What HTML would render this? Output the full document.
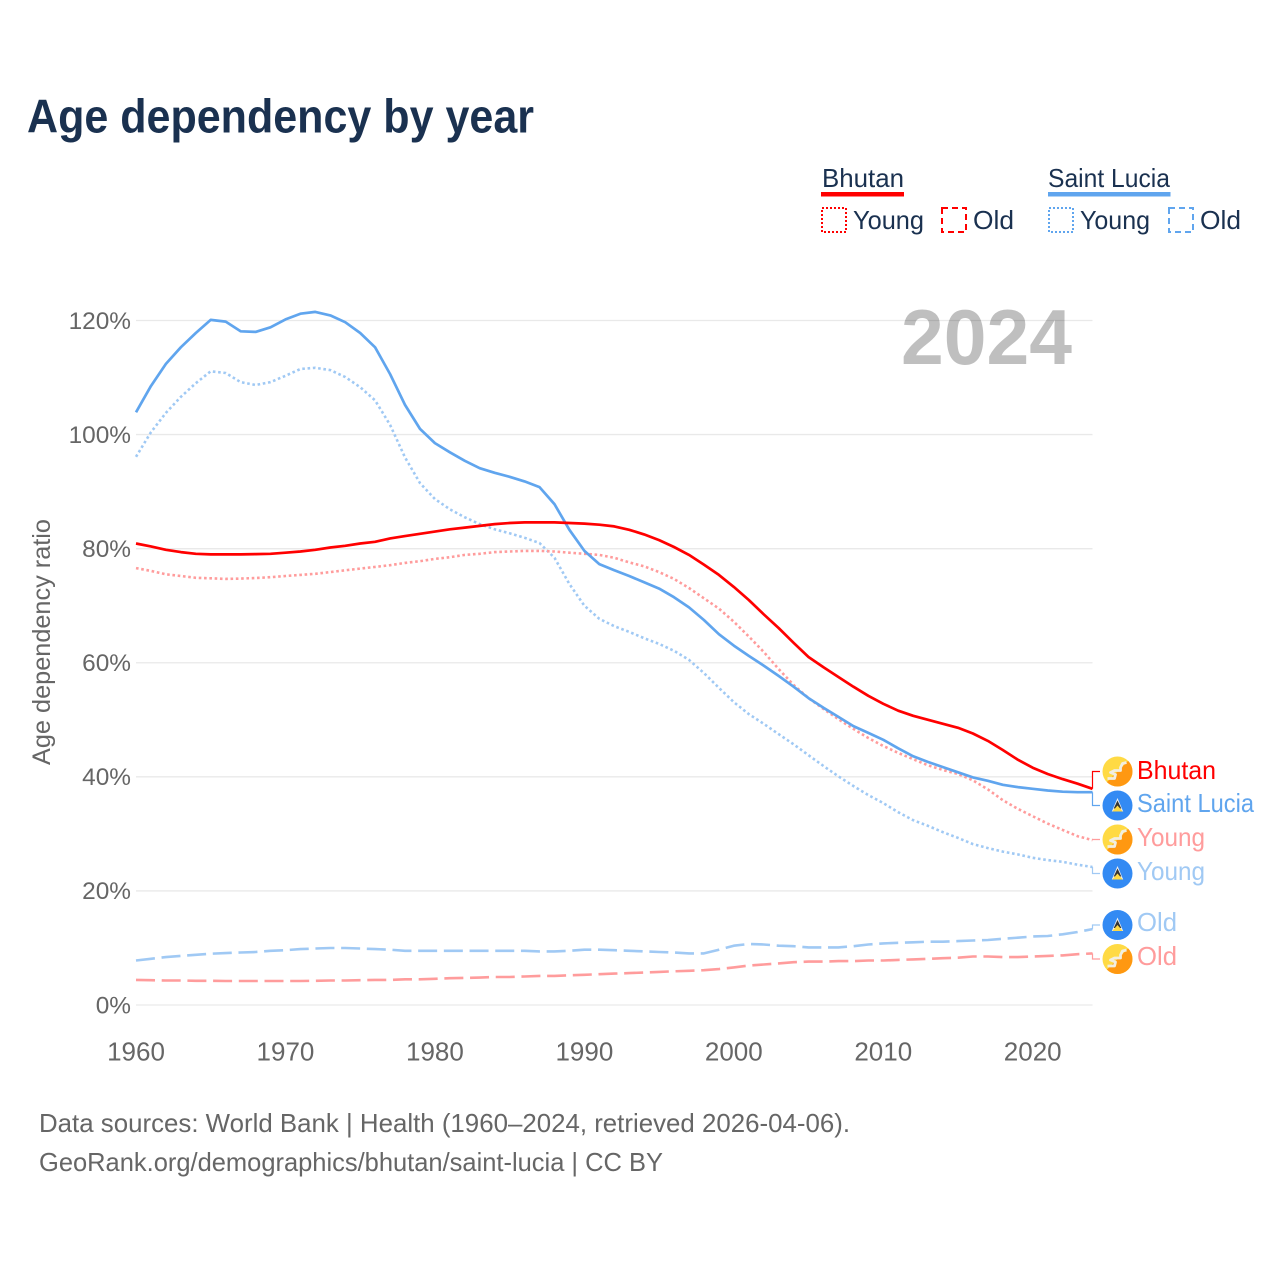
<!DOCTYPE html>
<html lang="en">
<head>
<meta charset="utf-8">
<title>Age dependency by year</title>
<style>
html,body{margin:0;padding:0;background:#fff;}
svg{display:block;font-family:"Liberation Sans",sans-serif;}
</style>
</head>
<body>
<svg id="chart" xmlns="http://www.w3.org/2000/svg" width="1280" height="1280" viewBox="0 0 1280 1280">
<defs>
  <clipPath id="flag-clip"><circle cx="0" cy="0" r="15"/></clipPath>
  <g id="flag-bt" clip-path="url(#flag-clip)">
    <rect x="-15" y="-15" width="30" height="30" fill="#ffda44"/>
    <path d="M15,-15 L15,15 L-15,15 Z" fill="#ff9811"/>
    <path d="M-10,7 L-3,7 L-2,3 L-7,1 L-3,-1 L3,-1 L3,-4 L5,-8 L9,-9" fill="none" stroke="#f2eee0" stroke-width="2.8" stroke-linejoin="round"/>
  </g>
  <g id="flag-lc" clip-path="url(#flag-clip)">
    <rect x="-15" y="-15" width="30" height="30" fill="#338af3"/>
    <path d="M0,-7.5 L5.7,6 L-5.7,6 Z" fill="#f0f0f0"/>
    <path d="M0,-5 L3.8,3 L-3.8,3 Z" fill="#333"/>
    <path d="M-5.2,6 L0,0 L5.2,6 Z" fill="#ffda44"/>
  </g>
</defs>

<text x="27" y="132.5" font-size="47" font-weight="700" fill="#1a3150" textLength="507" lengthAdjust="spacingAndGlyphs">Age dependency by year</text>

<g>
  <g>
    <text x="822" y="187" font-size="26" fill="#1a3150" textLength="82" lengthAdjust="spacingAndGlyphs">Bhutan</text>
    <rect x="821" y="192" width="83" height="4.5" fill="#ff0000"/>
    <rect x="822" y="208" width="24" height="24" fill="none" stroke="#ff0000" stroke-width="2" stroke-dasharray="2 2"/>
    <text x="853" y="229" font-size="26" fill="#1a3150" textLength="71" lengthAdjust="spacingAndGlyphs">Young</text>
    <rect x="942" y="208" width="24" height="24" fill="none" stroke="#ff0000" stroke-width="2" stroke-dasharray="6 4"/>
    <text x="973" y="229" font-size="26" fill="#1a3150" textLength="41" lengthAdjust="spacingAndGlyphs">Old</text>
  </g>
  <g>
    <text x="1048" y="187" font-size="26" fill="#1a3150" textLength="122" lengthAdjust="spacingAndGlyphs">Saint Lucia</text>
    <rect x="1048" y="192" width="122.5" height="4.5" fill="#60a5ee"/>
    <rect x="1049" y="208" width="24" height="24" fill="none" stroke="#60a5ee" stroke-width="2" stroke-dasharray="2 2"/>
    <text x="1080" y="229" font-size="26" fill="#1a3150" textLength="70" lengthAdjust="spacingAndGlyphs">Young</text>
    <rect x="1169" y="208" width="24" height="24" fill="none" stroke="#60a5ee" stroke-width="2" stroke-dasharray="6 4"/>
    <text x="1200" y="229" font-size="26" fill="#1a3150" textLength="41" lengthAdjust="spacingAndGlyphs">Old</text>
  </g>
</g>

<g id="grid"></g>
<g id="yticks"></g>
<g id="xticks"></g>

<text transform="translate(50,765) rotate(-90)" x="0" y="0" font-size="25" fill="#666666" textLength="246" lengthAdjust="spacingAndGlyphs">Age dependency ratio</text>

<text x="901" y="364" font-size="78" font-weight="700" fill="#000000" fill-opacity="0.25" textLength="171" lengthAdjust="spacingAndGlyphs">2024</text>

<g id="series"></g>
<g id="leaders"></g>

<g>
  <use href="#flag-bt" x="1117.5" y="771.5"/>
  <text x="1137" y="779" font-size="26" fill="#ff0000" textLength="79" lengthAdjust="spacingAndGlyphs">Bhutan</text>
  <use href="#flag-lc" x="1117.5" y="805.5"/>
  <text x="1137" y="812" font-size="26" fill="#60a5ee" textLength="117" lengthAdjust="spacingAndGlyphs">Saint Lucia</text>
  <use href="#flag-bt" x="1117.5" y="839.5"/>
  <text x="1137" y="846" font-size="26" fill="#ff9c9c" textLength="68" lengthAdjust="spacingAndGlyphs">Young</text>
  <use href="#flag-lc" x="1117.5" y="873.5"/>
  <text x="1137" y="880" font-size="26" fill="#a0c9f4" textLength="68" lengthAdjust="spacingAndGlyphs">Young</text>
  <use href="#flag-lc" x="1117.5" y="925"/>
  <text x="1137" y="931" font-size="26" fill="#a0c9f4" textLength="40" lengthAdjust="spacingAndGlyphs">Old</text>
  <use href="#flag-bt" x="1117.5" y="959"/>
  <text x="1137" y="965" font-size="26" fill="#ff9c9c" textLength="40" lengthAdjust="spacingAndGlyphs">Old</text>
</g>

<text x="39" y="1132" font-size="26" fill="#666666" textLength="811" lengthAdjust="spacingAndGlyphs">Data sources: World Bank | Health (1960–2024, retrieved 2026-04-06).</text>
<text x="39" y="1171" font-size="26" fill="#666666" textLength="624" lengthAdjust="spacingAndGlyphs">GeoRank.org/demographics/bhutan/saint-lucia | CC BY</text>
</svg>

<script>
const startYear = 1960;
const endYear = 2024;
const yTickValues = [0, 20, 40, 60, 80, 100, 120];
const xTickValues = [1960, 1970, 1980, 1990, 2000, 2010, 2020];

const bhutanTotal = [
  80.9,80.4,79.8,79.4,79.1,79.0,79.0,79.0,79.05,79.1,
  79.3,79.5,79.8,80.2,80.5,80.9,81.2,81.8,82.2,82.6,
  83.0,83.4,83.7,84.0,84.3,84.5,84.6,84.6,84.6,84.5,
  84.4,84.2,83.9,83.3,82.5,81.5,80.3,78.9,77.2,75.4,
  73.3,71.0,68.5,66.1,63.5,61.0,59.2,57.5,55.8,54.2,
  52.8,51.6,50.7,50.0,49.3,48.6,47.6,46.3,44.7,43.0,
  41.6,40.5,39.6,38.8,37.9
];
const bhutanYoung = [
  76.6,76.1,75.5,75.2,74.9,74.8,74.7,74.75,74.85,75.0,
  75.2,75.4,75.6,75.9,76.2,76.5,76.8,77.1,77.5,77.8,
  78.2,78.5,78.9,79.1,79.4,79.5,79.6,79.6,79.5,79.3,
  79.1,78.9,78.4,77.6,76.9,75.9,74.7,73.1,71.3,69.5,
  67.2,64.6,61.9,58.9,56.1,53.8,51.9,50.1,48.4,46.8,
  45.4,44.2,43.1,42.0,41.2,40.5,39.4,37.8,35.9,34.4,
  33.1,31.8,30.7,29.6,28.9
];
const bhutanOld = [
  4.4,4.35,4.3,4.3,4.25,4.25,4.2,4.2,4.2,4.2,
  4.2,4.2,4.25,4.3,4.3,4.35,4.4,4.4,4.5,4.5,
  4.6,4.7,4.75,4.8,4.9,4.9,5.0,5.1,5.1,5.2,
  5.3,5.4,5.5,5.6,5.7,5.8,5.9,6.0,6.1,6.3,
  6.6,6.9,7.1,7.3,7.5,7.6,7.6,7.7,7.7,7.8,
  7.8,7.9,8.0,8.1,8.2,8.3,8.5,8.5,8.4,8.4,
  8.5,8.6,8.7,8.9,9.05
];
const saintLuciaTotal = [
  103.9,108.5,112.4,115.3,117.8,120.1,119.8,118.1,118.0,118.8,
  120.2,121.2,121.5,120.9,119.7,117.8,115.3,110.6,105.2,101.0,
  98.5,96.9,95.4,94.1,93.3,92.6,91.8,90.8,87.8,83.3,
  79.6,77.3,76.2,75.2,74.1,73.0,71.5,69.7,67.5,65.0,
  63.0,61.2,59.5,57.7,55.8,53.8,52.1,50.5,48.9,47.7,
  46.5,45.0,43.6,42.6,41.7,40.8,39.9,39.3,38.6,38.2,
  37.9,37.6,37.4,37.3,37.3
];
const saintLuciaYoung = [
  96.1,100.4,103.8,106.6,109.0,111.1,110.8,109.2,108.7,109.2,
  110.3,111.5,111.7,111.3,110.1,108.3,106.0,101.7,96.0,91.5,
  88.7,86.9,85.5,84.3,83.4,82.7,81.9,81.0,78.4,73.8,
  70.0,67.7,66.4,65.4,64.3,63.3,62.1,60.5,58.2,55.6,
  53.1,51.0,49.3,47.5,45.7,43.8,41.9,40.1,38.4,36.8,
  35.4,33.8,32.4,31.4,30.3,29.3,28.2,27.5,26.9,26.4,
  25.8,25.4,25.1,24.6,24.2
];
const saintLuciaOld = [
  7.8,8.1,8.4,8.6,8.8,9.0,9.1,9.2,9.3,9.5,
  9.6,9.8,9.9,10.0,10.0,9.9,9.8,9.7,9.5,9.5,
  9.5,9.5,9.5,9.5,9.5,9.5,9.5,9.4,9.4,9.5,
  9.7,9.7,9.6,9.5,9.4,9.3,9.2,9.05,9.05,9.7,
  10.4,10.7,10.6,10.4,10.3,10.1,10.1,10.1,10.3,10.6,
  10.8,10.9,11.0,11.1,11.1,11.2,11.3,11.4,11.6,11.8,
  12.0,12.1,12.4,12.8,13.3
];

const NS = 'http://www.w3.org/2000/svg';
const plot = { left: 136, right: 1092.5, zeroY: 1005, top120Y: 320.5 };
function xScale(year) {
  return plot.left + (year - startYear) * (plot.right - plot.left) / (endYear - startYear);
}
function yScale(value) {
  return plot.zeroY - value * (plot.zeroY - plot.top120Y) / 120;
}
function make(tag, attrs) {
  const el = document.createElementNS(NS, tag);
  for (const k in attrs) el.setAttribute(k, attrs[k]);
  return el;
}

const gridGroup = document.getElementById('grid');
const yTickGroup = document.getElementById('yticks');
const xTickGroup = document.getElementById('xticks');

yTickValues.forEach(function (v) {
  const line = make('line', { x1: plot.left, x2: plot.right, y1: yScale(v), y2: yScale(v), stroke: '#e9e9e9', 'stroke-width': 1.3 });
  
  
  gridGroup.appendChild(line);
  const label = make('text', { x: 131, y: yScale(v) + 8.3, 'text-anchor': 'end', 'font-size': 24.4, fill: '#666666' });
  
  
  label.textContent = v + '%';
  yTickGroup.appendChild(label);
});

xTickValues.forEach(function (yr) {
  const label = make('text', { x: xScale(yr), y: 1060.5, 'text-anchor': 'middle', 'font-size': 26, fill: '#666666' });
  
  
  label.textContent = yr;
  xTickGroup.appendChild(label);
});

const seriesList = [
  { key: 'bhutan-old', values: bhutanOld, color: '#ff9c9c', dash: '19 6.7', width: 2.6, slot: 959 },
  { key: 'saint-lucia-old', values: saintLuciaOld, color: '#a0c9f4', dash: '19 6.7', width: 2.6, slot: 925 },
  { key: 'saint-lucia-young', values: saintLuciaYoung, color: '#a0c9f4', dash: '2.6 2.7', width: 2.6, slot: 873.5 },
  { key: 'bhutan-young', values: bhutanYoung, color: '#ff9c9c', dash: '2.6 2.7', width: 2.6, slot: 839.5 },
  { key: 'saint-lucia-total', values: saintLuciaTotal, color: '#60a5ee', dash: 'none', width: 2.7, slot: 805.5 },
  { key: 'bhutan-total', values: bhutanTotal, color: '#ff0000', dash: 'none', width: 2.7, slot: 771.5 }
];

const seriesGroup = document.getElementById('series');
const leaderGroup = document.getElementById('leaders');
seriesList.forEach(function (s) {
  const pts = s.values.map(function (v, i) {
    return xScale(startYear + i).toFixed(1) + ',' + yScale(v).toFixed(1);
  }).join(' ');
  const line = make('polyline', { points: pts, fill: 'none', stroke: s.color, 'stroke-width': s.width, 'stroke-dasharray': s.dash, 'stroke-linejoin': 'round' });
  
  
  seriesGroup.appendChild(line);

  const endY = yScale(s.values[s.values.length - 1]);
  const leader = make('path', { d: 'M' + plot.right + ',' + endY.toFixed(1) + ' V' + s.slot + ' H1100', fill: 'none', stroke: s.color, 'stroke-width': 1.2 });
  
  
  leaderGroup.appendChild(leader);
});
</script>
</body>
</html>
